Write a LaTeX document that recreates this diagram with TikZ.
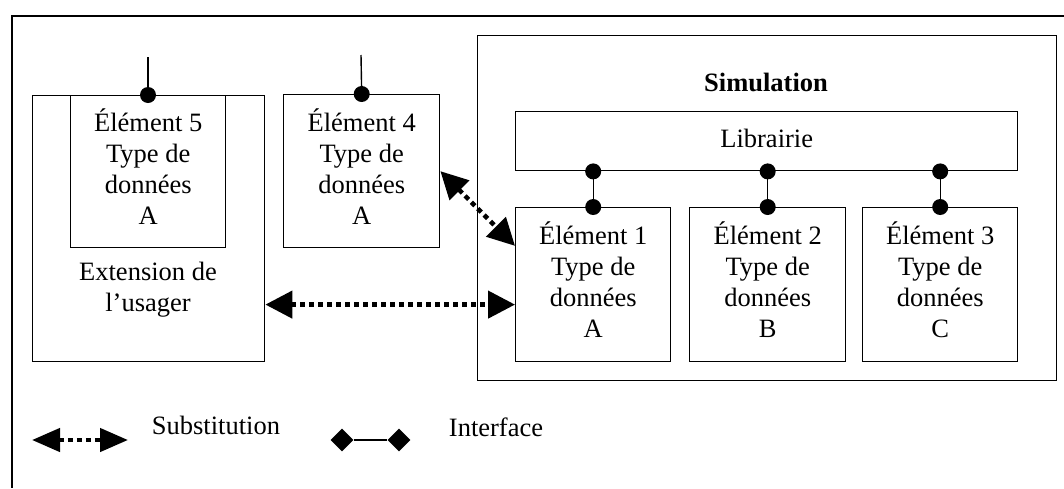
\documentclass[tikz,border=0pt]{standalone}
\usepackage{fontspec}
\setmainfont{Liberation Serif}
\usetikzlibrary{arrows.meta,calc,shapes.geometric}
\begin{document}
\begin{tikzpicture}[x=1pt,y=-1pt,
  txt/.style={font=\fontsize{26.5}{31}\selectfont},
  box/.style={txt,draw,line width=1.4pt,inner sep=0pt,align=center},
  elem/.style={box,text depth=10pt},
  lbl/.style={txt,inner sep=0pt,align=center},
  pindot/.style={circle,fill,inner sep=0pt,minimum size=16pt},
  iface/.style={line width=1.4pt},
  subst/.style={line width=4.5pt,dash pattern=on 5pt off 4pt,
    {Triangle[length=27pt,width=27pt]}-{Triangle[length=27pt,width=27pt]}},
  substleg/.style={line width=4.5pt,dash pattern=on 5pt off 4pt,
    {Triangle[length=28pt,width=23pt]}-{Triangle[length=28pt,width=23pt]}},
  dia/.style={diamond,fill,inner sep=0pt,minimum width=23pt,minimum height=23pt},
]
\useasboundingbox (0,0) rectangle (1064,488);
\fill[white] (0,0) rectangle (1064,488);
% outer frame (top and left edges visible)
\draw[line width=1.4pt] (1064,16) -- (12,16) -- (12,488);

% user extension
\node[box,minimum width=232pt,minimum height=266pt,anchor=north west] (ue) at (32,95) {};
\node[elem,minimum width=155pt,minimum height=152pt,anchor=north west] (e5) at (70,95)
  {Élément 5\\Type de\\données\\A};
\node[lbl] (uetxt) at (148,290) {Extension de\\l’usager};

% element 4
\node[elem,minimum width=156pt,minimum height=153pt,anchor=north west] (e4) at (283,94)
  {Élément 4\\Type de\\données\\A};

% pins on element 5 and 4
\coordinate (p5) at (148,57);
\coordinate (p4) at (361,55);
\draw[iface] (p5) -- (p5 |- e5.north);
\node[pindot] (d5) at (p5 |- e5.north) {};
\draw[iface] (p4) -- (e4.north);
\node[pindot] (d4) at (e4.north) {};

% simulation
\node[box,minimum width=579pt,minimum height=345pt,anchor=north west] (sim) at (477,35) {};
\node[lbl,font={\fontsize{26.5}{31}\selectfont\bfseries}] (simtxt) at (766,82) {Simulation};
\node[box,minimum width=502pt,minimum height=59pt,anchor=north west,text depth=5pt] (lib) at (515,111) {Librairie};

\node[elem,minimum width=155pt,minimum height=154pt,anchor=north west] (e1) at (515,207)
  {Élément 1\\Type de\\données\\A};
\node[elem,minimum width=156pt,minimum height=154pt,anchor=north west] (e2) at (689,207)
  {Élément 2\\Type de\\données\\B};
\node[elem,minimum width=155pt,minimum height=154pt,anchor=north west] (e3) at (862,207)
  {Élément 3\\Type de\\données\\C};

% interfaces library - elements
\foreach \e in {e1,e2,e3}{
  \draw[iface] (\e.north) -- (\e.north |- lib.south);
  \node[pindot] at (\e.north) {};
  \node[pindot] at (\e.north |- lib.south) {};
}

% substitutions
\coordinate (t1) at ($(e1.north west)!0.25!(e1.south west)$);
\draw[subst] (e4.east) -- (t1);
\coordinate (h1) at ($(e1.north west)!0.628!(e1.south west)$);
\draw[subst] (ue.east |- h1) -- (h1);

% legend
\coordinate (sl) at (32,440);
\coordinate (sr) at (128,440);
\draw[substleg] (sl) -- (sr);
\node[lbl] (stxt) at (216,425) {Substitution};
\node[dia] (da) at (342,440) {};
\node[dia] (db) at (399,440) {};
\draw[iface] (da) -- (db);
\node[lbl] (itxt) at (496,427) {Interface};
\end{tikzpicture}
\end{document}
